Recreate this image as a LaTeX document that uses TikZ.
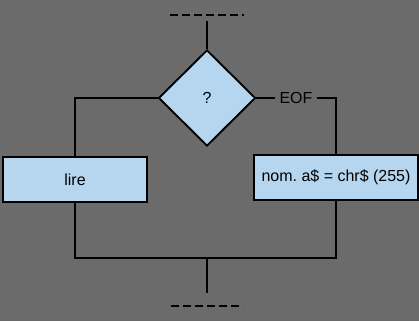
\documentclass[tikz,border=0pt]{standalone}
\usepackage{fontspec}
\setmainfont{Liberation Sans}
\usetikzlibrary{shapes.geometric}
\definecolor{paperc}{HTML}{6B6B6B}
\definecolor{boxc}{HTML}{B6D6F0}
\tikzset{
  block/.style={draw, fill=boxc, minimum height=45pt, inner sep=0pt},
  cut/.style={dash pattern=on 8pt off 4pt}
}

\begin{document}
\begin{tikzpicture}[x=1pt, y=-1pt, line width=1.9pt, font=\fontsize{16}{19}\selectfont]
  \fill[paperc] (0,0) rectangle (419,321);
  \useasboundingbox (0,0) rectangle (419,321);
  \node[diamond, draw, fill=boxc, minimum width=97pt, minimum height=96pt, inner sep=0pt] (test) at (207,98) {?};
  \node[block, minimum width=144pt] (lire) at (75,179.5) {lire};
  \node[block, minimum width=164pt] (nom) at (336,177.5) {nom.\ a\$ = chr\$ (255)};
  \node (eof) at (296,98) {EOF};
  \coordinate (in) at (207,21);
  \coordinate (join) at (207,258);
  \coordinate (out) at (207,293);
  \draw[cut] (170,15) -- (244,15);
  \draw[cut] (171,306) -- (243,306);
  \draw (in) -- (test.north);
  \draw (test.west) -| (lire.north);
  \draw (test.east) -- (eof.west);
  \draw (eof.east) -| (nom.north);
  \draw (lire.south) |- (join) -| (nom.south);
  \draw (join) -- (out);
\end{tikzpicture}
\end{document}
